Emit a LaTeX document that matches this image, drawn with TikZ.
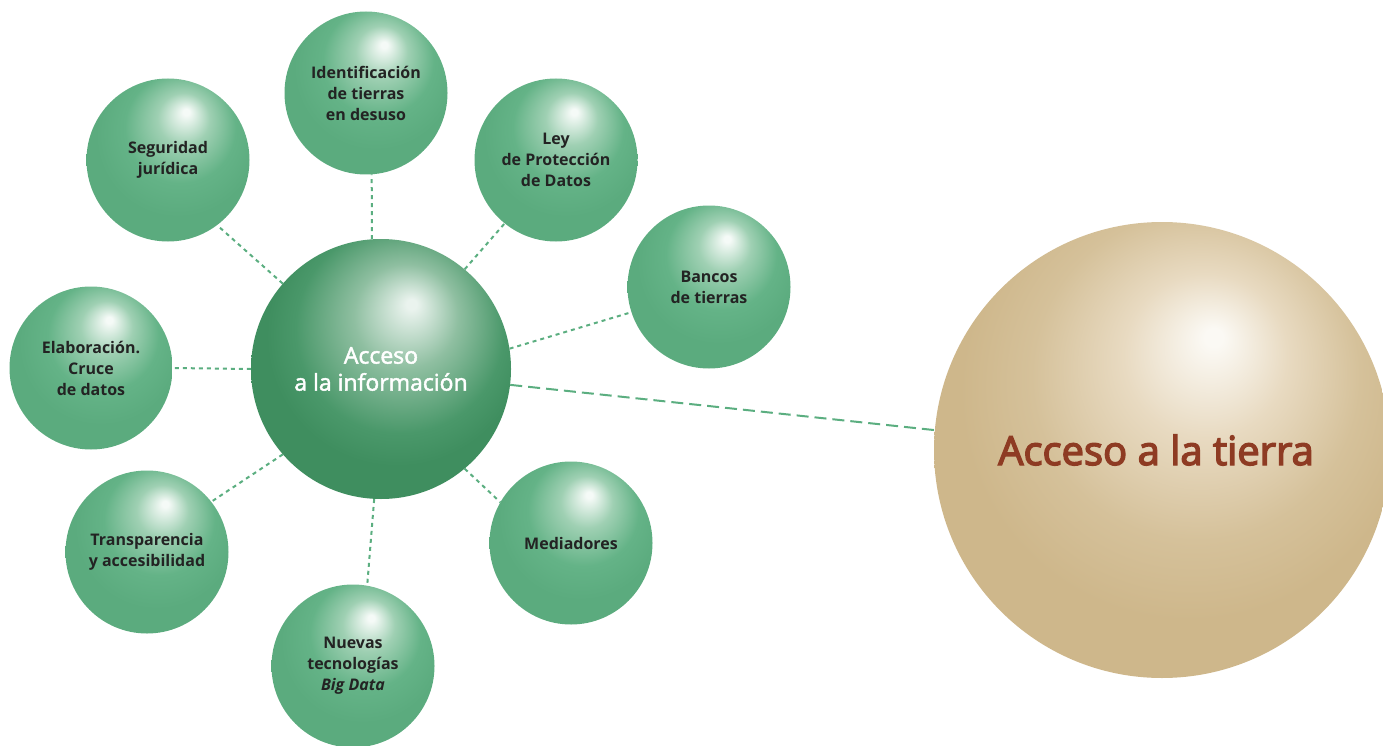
\documentclass[tikz,border=0pt]{standalone}
\usepackage{fontspec}
\setmainfont{Open Sans}
\newfontfamily\semibmain{Open Sans}[FakeBold=2]
\newfontfamily\semibbig{Open Sans}[FakeBold=3.5]
\pgfdeclarelayer{bg}
\pgfsetlayers{bg,main}
\definecolor{gwhite}{HTML}{F5FAF7}
\definecolor{gmid}{HTML}{9FD0B3}
\definecolor{gedge}{HTML}{64B387}
\definecolor{gedge2}{HTML}{5BAB7E}
\definecolor{mwhite}{HTML}{EAF3EE}
\definecolor{mmid}{HTML}{8FBFA1}
\definecolor{medge}{HTML}{4A986A}
\definecolor{medge2}{HTML}{3F8E5F}
\definecolor{twhite}{HTML}{FBF9F4}
\definecolor{tmid}{HTML}{E8DAC1}
\definecolor{tedge}{HTML}{D5C19A}
\definecolor{tedge2}{HTML}{CEB78B}
\definecolor{lnk}{HTML}{5BAE80}
\definecolor{txt}{HTML}{232323}
\definecolor{brn}{HTML}{8E3B23}
\pgfdeclareradialshading{greenball}{\pgfpoint{5.7bp}{15bp}}{color(0bp)=(gwhite); color(1bp)=(gwhite); color(8bp)=(gmid); color(17bp)=(gedge); color(25bp)=(gedge2); color(50bp)=(gedge2)}
\pgfdeclareradialshading{mainball}{\pgfpoint{6bp}{12.7bp}}{color(0bp)=(mwhite); color(1bp)=(mwhite); color(10bp)=(mmid); color(20bp)=(medge); color(25bp)=(medge2); color(50bp)=(medge2)}
\pgfdeclareradialshading{tanball}{\pgfpoint{5.8bp}{12.6bp}}{color(0bp)=(twhite); color(1bp)=(twhite); color(9bp)=(tmid); color(18bp)=(tedge); color(25bp)=(tedge2); color(50bp)=(tedge2)}
\tikzset{
  smallball/.style={circle, minimum size=163pt, inner sep=0pt, shading=greenball, align=center,
    text=txt, font=\bfseries\fontsize{16}{21}\selectfont},
  mainballnode/.style={circle, minimum size=260pt, inner sep=0pt, shading=mainball, align=center,
    text=white, font=\semibmain\fontsize{23}{27}\selectfont},
  bigballnode/.style={circle, minimum size=456pt, inner sep=0pt, shading=tanball, align=center,
    text=brn, font=\semibbig\fontsize{40}{44}\selectfont},
  shortlink/.style={draw=lnk, line width=2pt, dash pattern=on 4pt off 4pt},
  longlink/.style={draw=lnk, line width=2pt, dash pattern=on 12pt off 6pt}
}
\begin{document}
\begin{tikzpicture}[x=1pt,y=-1pt]
\useasboundingbox (0,0) rectangle (1383,746);
\node[mainballnode] (main) at (381,369) {Acceso\\a la información};
\node[bigballnode] (tierra) at (1162,450) {\hspace*{-12pt}Acceso a la tierra};
\node[smallball] (ident) at (366,93) {Identificación\\de tierras\\en desuso};
\node[smallball] (segur) at (168,160) {Seguridad\\jurídica};
\node[smallball] (ley) at (556,160) {Ley\\de Protección\\de Datos};
\node[smallball] (bancos) at (709,287) {Bancos\\de tierras};
\node[smallball] (elab) at (91,368) {Elaboración.\\Cruce\\de datos};
\node[smallball] (transp) at (147,552) {Transparencia\\y accesibilidad};
\node[smallball] (nuevas) at (353,666) {Nuevas\\tecnologías\\{\itshape Big Data}};
\node[smallball] (medi) at (571,543) {Mediadores};
\begin{pgfonlayer}{bg}
\draw[shortlink] (main.94) -- (ident.-86);
\draw[shortlink] (main.139) -- (segur.-53);
\draw[shortlink] (main.50) -- (ley.-129);
\draw[shortlink] (main.9) -- (bancos.198);
\draw[shortlink] (main.180) -- (elab.0);
\draw[shortlink] (main.221) -- (transp.38);
\draw[shortlink] (main.-93) -- (nuevas.80);
\draw[shortlink] (main.-50) -- (medi.150);
\draw[longlink] (main.-7) -- (tierra.175);
\end{pgfonlayer}
\end{tikzpicture}
\end{document}
